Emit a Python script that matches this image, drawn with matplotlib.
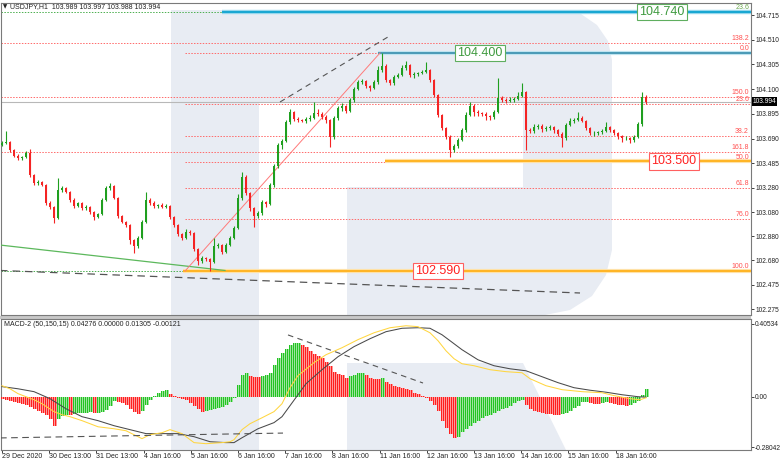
import matplotlib
matplotlib.use('Agg')
import matplotlib.pyplot as plt
from matplotlib.patches import Polygon, Rectangle
import numpy as np

W, H = 782, 462
FONT = ['Liberation Sans', 'DejaVu Sans']
plt.rcParams['font.family'] = FONT

# ---------------- data ----------------
first_open = 103.640
closes = [103.653, 103.661, 103.595, 103.545, 103.528, 103.537, 103.570, 103.387, 103.321, 103.329,
          103.304, 103.155, 103.122, 103.030, 103.263, 103.279, 103.246, 103.180, 103.130, 103.155,
          103.113, 103.122, 103.080, 103.039, 103.064, 103.180, 103.279, 103.296, 103.196, 103.047,
          102.997, 102.972, 102.848, 102.798, 102.864, 102.997, 103.180, 103.155, 103.130, 103.138,
          103.122, 103.130, 103.039, 102.972, 102.898, 102.864, 102.914, 102.906, 102.773, 102.674,
          102.698, 102.690, 102.665, 102.798, 102.806, 102.748, 102.806, 102.864, 102.947, 103.196,
          103.371, 103.238, 103.113, 103.047, 103.072, 103.163, 103.147, 103.304, 103.462, 103.636,
          103.669, 103.827, 103.910, 103.852, 103.844, 103.835, 103.852, 103.860, 103.902, 103.893,
          103.869, 103.844, 103.703, 103.860, 103.943, 103.960, 103.918, 104.010, 104.101, 104.159,
          104.167, 104.126, 104.109, 104.159, 104.259, 104.292, 104.176, 104.151, 104.201, 104.217,
          104.275, 104.300, 104.217, 104.225, 104.234, 104.242, 104.259, 104.176, 104.051, 103.885,
          103.777, 103.703, 103.595, 103.628, 103.678, 103.761, 103.885, 103.960, 103.910, 103.902,
          103.893, 103.877, 103.869, 103.910, 104.026, 104.010, 104.001, 104.010, 104.018, 104.043,
          104.076, 103.761, 103.752, 103.786, 103.794, 103.769, 103.777, 103.786, 103.761, 103.728,
          103.694, 103.802, 103.835, 103.844, 103.860, 103.835, 103.777, 103.736, 103.736, 103.744,
          103.752, 103.786, 103.761, 103.736, 103.711, 103.694, 103.694, 103.678, 103.703, 103.810,
          104.035, 103.993]
# wick lengths in points (0.001)
wick_up = [15, 90, 10, 12, 15, 10, 20, 30, 10, 15,
           12, 10, 15, 10, 100, 15, 12, 10, 15, 12,
           10, 15, 10, 8, 10, 15, 20, 25, 10, 8,
           10, 12, 10, 8, 15, 20, 66, 20, 15, 12,
           15, 20, 10, 8, 10, 12, 25, 15, 8, 10,
           20, 10, 12, 66, 20, 10, 20, 15, 20, 30,
           41, 15, 10, 12, 15, 20, 12, 15, 20, 15,
           20, 15, 25, 10, 15, 12, 20, 25, 91, 30,
           15, 12, 10, 20, 15, 25, 10, 20, 15, 20,
           15, 10, 12, 20, 30, 108, 15, 12, 20, 15,
           25, 30, 10, 15, 12, 20, 66, 10, 8, 10,
           12, 10, 15, 20, 15, 20, 25, 30, 15, 20,
           12, 15, 10, 20, 166, 20, 15, 25, 20, 30,
           75, 10, 20, 25, 20, 15, 20, 15, 12, 10,
           15, 20, 25, 20, 50, 15, 10, 12, 15, 10,
           15, 41, 12, 10, 12, 10, 15, 10, 15, 20,
           41, 12]
wick_dn = [15, 10, 15, 12, 15, 20, 10, 15, 20, 15,
           12, 20, 15, 40, 10, 15, 12, 20, 15, 10,
           15, 20, 15, 25, 12, 10, 12, 15, 10, 15,
           12, 20, 30, 58, 15, 10, 12, 15, 20, 15,
           12, 10, 15, 20, 15, 20, 12, 15, 20, 35,
           15, 20, 75, 12, 20, 15, 12, 10, 12, 10,
           15, 20, 25, 92, 20, 15, 25, 10, 15, 20,
           30, 10, 15, 20, 15, 12, 20, 15, 10, 20,
           15, 25, 83, 20, 15, 25, 15, 10, 15, 12,
           20, 15, 25, 12, 15, 20, 15, 20, 15, 12,
           10, 15, 20, 25, 15, 12, 10, 15, 20, 15,
           20, 15, 58, 20, 15, 10, 15, 12, 30, 25,
           20, 30, 25, 15, 12, 15, 20, 12, 15, 10,
           12, 166, 20, 15, 20, 25, 15, 20, 25, 20,
           74, 15, 12, 15, 10, 12, 15, 20, 25, 20,
           15, 12, 15, 20, 25, 30, 20, 25, 15, 10,
           12, 15]

macd_hist = [-0.011, -0.017, -0.022, -0.028, -0.033, -0.039, -0.044, -0.056, -0.067, -0.078,
             -0.089, -0.100, -0.122, -0.160, -0.122, -0.106, -0.100, -0.103, -0.094, -0.093,
             -0.092, -0.089, -0.083, -0.089, -0.088, -0.083, -0.072, -0.050, -0.022, -0.028,
             -0.033, -0.044, -0.067, -0.083, -0.094, -0.078, -0.044, -0.017, 0.006, 0.022,
             0.033, 0.036, 0.017, 0.006, -0.006, -0.011, -0.017, -0.033, -0.050, -0.067,
             -0.083, -0.078, -0.072, -0.067, -0.061, -0.056, -0.044, -0.028, -0.006, 0.067,
             0.122, 0.133, 0.117, 0.111, 0.108, 0.117, 0.122, 0.133, 0.178, 0.217,
             0.244, 0.266, 0.289, 0.297, 0.300, 0.289, 0.275, 0.255, 0.239, 0.225,
             0.214, 0.194, 0.172, 0.139, 0.128, 0.122, 0.106, 0.117, 0.122, 0.130,
             0.133, 0.122, 0.106, 0.100, 0.097, 0.106, 0.083, 0.072, 0.061, 0.056,
             0.047, 0.044, 0.039, 0.022, 0.014, 0.003, -0.008, -0.022, -0.044, -0.078,
             -0.133, -0.172, -0.205, -0.228, -0.222, -0.194, -0.178, -0.161, -0.144, -0.133,
             -0.119, -0.108, -0.100, -0.089, -0.078, -0.069, -0.061, -0.050, -0.036, -0.025,
             -0.017, -0.044, -0.067, -0.078, -0.083, -0.089, -0.094, -0.097, -0.099, -0.100,
             -0.097, -0.089, -0.078, -0.064, -0.050, -0.031, -0.028, -0.033, -0.039, -0.040,
             -0.036, -0.028, -0.033, -0.039, -0.044, -0.047, -0.050, -0.044, -0.033, -0.022,
             0.011, 0.044]
macd_black_idx = [0, 4, 8, 12, 16, 20, 24, 28, 32, 36, 40, 44, 48, 52, 56, 58, 60, 64, 68, 70,
                  72, 74, 76, 80, 84, 88, 92, 96, 100, 104, 107, 110, 112, 115, 119, 123, 127, 131,
                  135, 139, 143, 147, 151, 155, 159, 161]
macd_black = [0.056, 0.044, 0.028, -0.011, -0.067, -0.111, -0.133, -0.161, -0.183, -0.205,
              -0.205, -0.205, -0.222, -0.250, -0.255, -0.255, -0.228, -0.178, -0.144, -0.111,
              -0.050, 0.011, 0.072, 0.150, 0.222, 0.278, 0.322, 0.361, 0.380, 0.383,
              0.380, 0.344, 0.311, 0.261, 0.205, 0.172, 0.155, 0.144, 0.111, 0.078,
              0.050, 0.036, 0.025, 0.011, 0.000, -0.003]
macd_yellow_idx = [0, 2, 4, 8, 10, 13, 15, 17, 20, 24, 28, 31, 33, 35, 37, 40, 42, 45, 48, 51,
                   55, 57, 58, 60, 62, 65, 68, 70, 72, 74, 78, 81, 85, 89, 93, 97, 101, 104, 107,
                   109, 111, 113, 115, 118, 122, 126, 130, 132, 136, 140, 145, 150, 153, 157, 159.5, 161]
macd_yellow = [0.061, 0.044, 0.017, -0.017, -0.039, -0.083, -0.100, -0.111, -0.133, -0.167,
               -0.178, -0.189, -0.211, -0.233, -0.211, -0.200, -0.183, -0.205, -0.255, -0.261,
               -0.255, -0.250, -0.239, -0.183, -0.150, -0.117, -0.083, -0.039, 0.050, 0.117,
               0.189, 0.233, 0.272, 0.317, 0.355, 0.383, 0.394, 0.389, 0.355, 0.311,
               0.255, 0.211, 0.183, 0.172, 0.150, 0.139, 0.133, 0.100, 0.061, 0.039,
               0.028, 0.022, 0.006, -0.011, -0.017, -0.006]

price_ticks = [104.715, 104.510, 104.305, 104.100, 103.895, 103.690, 103.485,
               103.280, 103.080, 102.880, 102.680, 102.475, 102.275]
macd_ticks = [0.40534, 0.0, -0.28042]
macd_tick_labels = ['0.40534', '0.00', '-0.28042']
date_pos = [0, 11.8, 23.6, 35.4, 47.2, 59.0, 70.8, 82.6, 94.4, 106.2, 118.0, 129.8, 141.6, 153.4]
date_labels = ['29 Dec 2020', '30 Dec 13:00', '31 Dec 13:00', '4 Jan 16:00', '5 Jan 16:00',
               '6 Jan 16:00', '7 Jan 16:00', '8 Jan 16:00', '11 Jan 16:00', '12 Jan 16:00',
               '13 Jan 16:00', '14 Jan 16:00', '15 Jan 16:00', '18 Jan 16:00']

fib_prices = [104.483, 104.400, 104.035, 103.976, 103.711, 103.578, 103.495, 103.281, 103.024, 102.590]
fib_labels = ['138.2', '0.0', '150.0', '23.6', '38.2', '161.8', '50.0', '61.8', '76.0', '100.0']
top_fib_price = 104.740
top_fib_label = '23.6'
level_prices = [104.740, 104.400, 103.500, 102.590]
level_texts = ['104.740', '104.400', '103.500', '102.590']
current_price = 103.994
title_text = 'USDJPY,H1  103.989 103.997 103.988 103.994'
macd_title = 'MACD-2 (50,150,15) 0.04276 0.00000 0.01305 -0.00121'

# ---------------- figure ----------------
fig = plt.figure(figsize=(W / 100, H / 100), dpi=100)
fig.patch.set_facecolor('white')

# background watermark (pixel coordinates)
bg = fig.add_axes([0, 0, 1, 1], zorder=-10)
bg.set_xlim(0, W); bg.set_ylim(H, 0); bg.axis('off')
wm = '#e8ecf3'
bg.add_patch(Rectangle((171, 10), 88, 440, color=wm, lw=0))
bowl = [(259, 10), (562, 10), (581, 14), (597, 25), (608, 41), (612, 60), (612, 250),
        (606, 275), (592, 296), (570, 310), (545, 315), (347, 315), (347, 187), (523, 187),
        (523, 102), (259, 102)]
bg.add_patch(Polygon(bowl, closed=True, color=wm, lw=0))
leg = [(347, 363), (523, 363), (566, 450), (347, 450)]
bg.add_patch(Polygon(leg, closed=True, color=wm, lw=0))
# separator between panels
bg.add_patch(Rectangle((0, 315.5), 751, 3, color='#c8c8c8', lw=0))

def px2idx(x):
    return (x - 2) / 4.0

# ---------------- main price panel ----------------
ax = fig.add_axes([1 / W, 1 - 315 / H, 750 / W, 312 / H])
ax.set_facecolor('none')
ax.set_xlim(-0.25, 187.25)
ax.set_ylim(102.2254, 104.8146)
XR = 187.25

n = len(closes)
idx = np.arange(n)
c = np.array(closes)
o = np.concatenate([[first_open], c[:-1]])
hi = np.maximum(o, c) + np.array(wick_up) / 1000.0
lo = np.minimum(o, c) - np.array(wick_dn) / 1000.0
up = c >= o
green, red = '#1f9f1f', '#f42424'
cols = [green if u else red for u in up]

# horizontal fib lines
full_labels = {'138.2', '150.0', '161.8'}
for p, lab in zip(fib_prices, fib_labels):
    x0 = -0.25 if lab in full_labels else px2idx(185)
    ax.hlines(p, x0, XR, colors='#ff6a6a', lw=0.7, linestyles=(0, (1.5, 1.5)), zorder=2)
    ax.text(px2idx(749), p + 0.006, lab, ha='right', va='bottom', fontsize=5, color='#ff5050', zorder=6)
ax.hlines(top_fib_price, -0.25, XR, colors='#4caf50', lw=0.7, linestyles=(0, (1.5, 1.5)), zorder=2)
ax.text(px2idx(749), top_fib_price + 0.006, top_fib_label, ha='right', va='bottom', fontsize=5, color='#6aa84f', zorder=6)
ax.hlines(fib_prices[-1], -0.25, XR, colors='#4caf50', lw=0.7, linestyles=(0, (1.5, 1.5)), zorder=2)

# current price line
ax.hlines(current_price, -0.25, XR, colors='#b8b8b8', lw=0.8, zorder=2)

# level lines
ax.hlines(level_prices[0], px2idx(222), XR, colors='#a6def0', lw=3.2, zorder=3)
ax.hlines(level_prices[0], px2idx(222), XR, colors='#1aa7d2', lw=1.6, zorder=3)
ax.hlines(level_prices[1], px2idx(378), XR, colors='#bfe4f0', lw=3, zorder=3)
ax.hlines(level_prices[1], px2idx(378), XR, colors='#2a86a6', lw=1.1, zorder=3)
ax.hlines(level_prices[2], px2idx(385), XR, colors='#ffe2a8', lw=3, zorder=3)
ax.hlines(level_prices[2], px2idx(385), XR, colors='#ffa800', lw=1.1, zorder=3)
ax.hlines(level_prices[3], px2idx(183), XR, colors='#ffe2a8', lw=3, zorder=3)
ax.hlines(level_prices[3], px2idx(183), XR, colors='#ffa800', lw=1.1, zorder=3)

# trend lines
ax.plot([px2idx(0), px2idx(225)], [102.806, 102.595], color='#5cb85c', lw=0.9, zorder=3)
ax.plot([px2idx(0), px2idx(580)], [102.595, 102.408], color='#555555', lw=0.9,
        dashes=(6, 4), zorder=3)
ax.plot([px2idx(280), px2idx(388)], [103.993, 104.533], color='#555555', lw=0.8,
        dashes=(5, 4), zorder=3)
ax.plot([px2idx(185), px2idx(380)], [102.590, 104.400], color='#ff7a7a', lw=0.7, zorder=3)

# candles
ax.vlines(idx, lo, hi, colors=cols, lw=0.8, zorder=4)
body = np.maximum(np.abs(c - o), 0.003)
ax.bar(idx, body, bottom=np.minimum(o, c), width=0.5, color=cols, lw=0, zorder=5)

# level boxes
box_cfg = [(px2idx(662), '#3e9a3e', '#5fae5f'), (px2idx(480), '#3e9a3e', '#5fae5f'),
           (px2idx(674), '#ff2020', '#ff6060'), (px2idx(438), '#ff2020', '#ff6060')]
for (bx, tc, ec), p, t in zip(box_cfg, level_prices, level_texts):
    ax.text(bx, p, t, ha='center', va='center', fontsize=9, color=tc, zorder=8,
            bbox=dict(boxstyle='square,pad=0.18', fc='white', ec=ec, lw=0.8))

ax.yaxis.tick_right()
ax.set_yticks(price_ticks)
ax.set_yticklabels([f'{v:.3f}' for v in price_ticks])
ax.tick_params(axis='y', direction='out', length=2, width=0.6, labelsize=4.8, pad=1, colors='#222222')
ax.set_xticks([])
for s in ax.spines.values():
    s.set_color('#7a7a7a'); s.set_linewidth(0.8)

# current price tag
ax.text(1.002, current_price, f'{current_price:.3f}', transform=ax.get_yaxis_transform(),
        ha='left', va='center', fontsize=4.8, color='white', zorder=9, clip_on=False,
        bbox=dict(boxstyle='square,pad=0.15', fc='black', ec='black', lw=0))

fig.text(3 / W, 1 - 7 / H, '\u25bc', fontsize=4, va='center', ha='left', color='#222222',
         family=['DejaVu Sans'])
fig.text(10 / W, 1 - 7 / H, title_text, fontsize=5, va='center', ha='left', color='#222222')

# ---------------- MACD panel ----------------
mx = fig.add_axes([1 / W, 1 - 450 / H, 750 / W, 131 / H])
mx.set_facecolor('none')
mx.set_xlim(-0.25, 187.25)
mx.set_ylim(-0.296, 0.4315)

hv = np.array(macd_hist)
prev = np.concatenate([[hv[0] + 0.001], hv[:-1]])
rising = hv >= prev
pale = ['#9fe39f' if r else '#ff9a9a' for r in rising]
vivid = ['#22c422' if r else '#ff1f1f' for r in rising]
mx.bar(idx + 0.125, hv, width=1.0, color=pale, lw=0, zorder=3)
for off in (-0.125, 0.375):
    mx.bar(idx + off, hv, width=0.25, color=vivid, lw=0, zorder=3)

mx.plot(macd_black_idx, macd_black, color='#4a4a4a', lw=0.75, zorder=4)
mx.plot(macd_yellow_idx, macd_yellow, color='#ffd640', lw=0.75, zorder=4)
mx.plot([px2idx(288), px2idx(423)], [0.343, 0.076], color='#555555', lw=0.8, dashes=(5, 4), zorder=4)
mx.plot([px2idx(0), px2idx(283)], [-0.229, -0.202], color='#555555', lw=0.8, dashes=(6, 4), zorder=4)

mx.yaxis.tick_right()
mx.set_yticks(macd_ticks)
mx.set_yticklabels(macd_tick_labels)
mx.tick_params(axis='y', direction='out', length=2, width=0.6, labelsize=4.8, pad=1, colors='#222222')
mx.set_xticks(date_pos)
mx.set_xticklabels(date_labels)
mx.tick_params(axis='x', direction='out', length=2, width=0.6, labelsize=5, pad=0.5, colors='#222222')
for lbl in mx.get_xticklabels():
    lbl.set_ha('left')
for s in mx.spines.values():
    s.set_color('#7a7a7a'); s.set_linewidth(0.8)

fig.text(4 / W, 1 - 324 / H, macd_title, fontsize=5, va='center', ha='left', color='#222222')

fig.savefig('out.png', dpi=100)
